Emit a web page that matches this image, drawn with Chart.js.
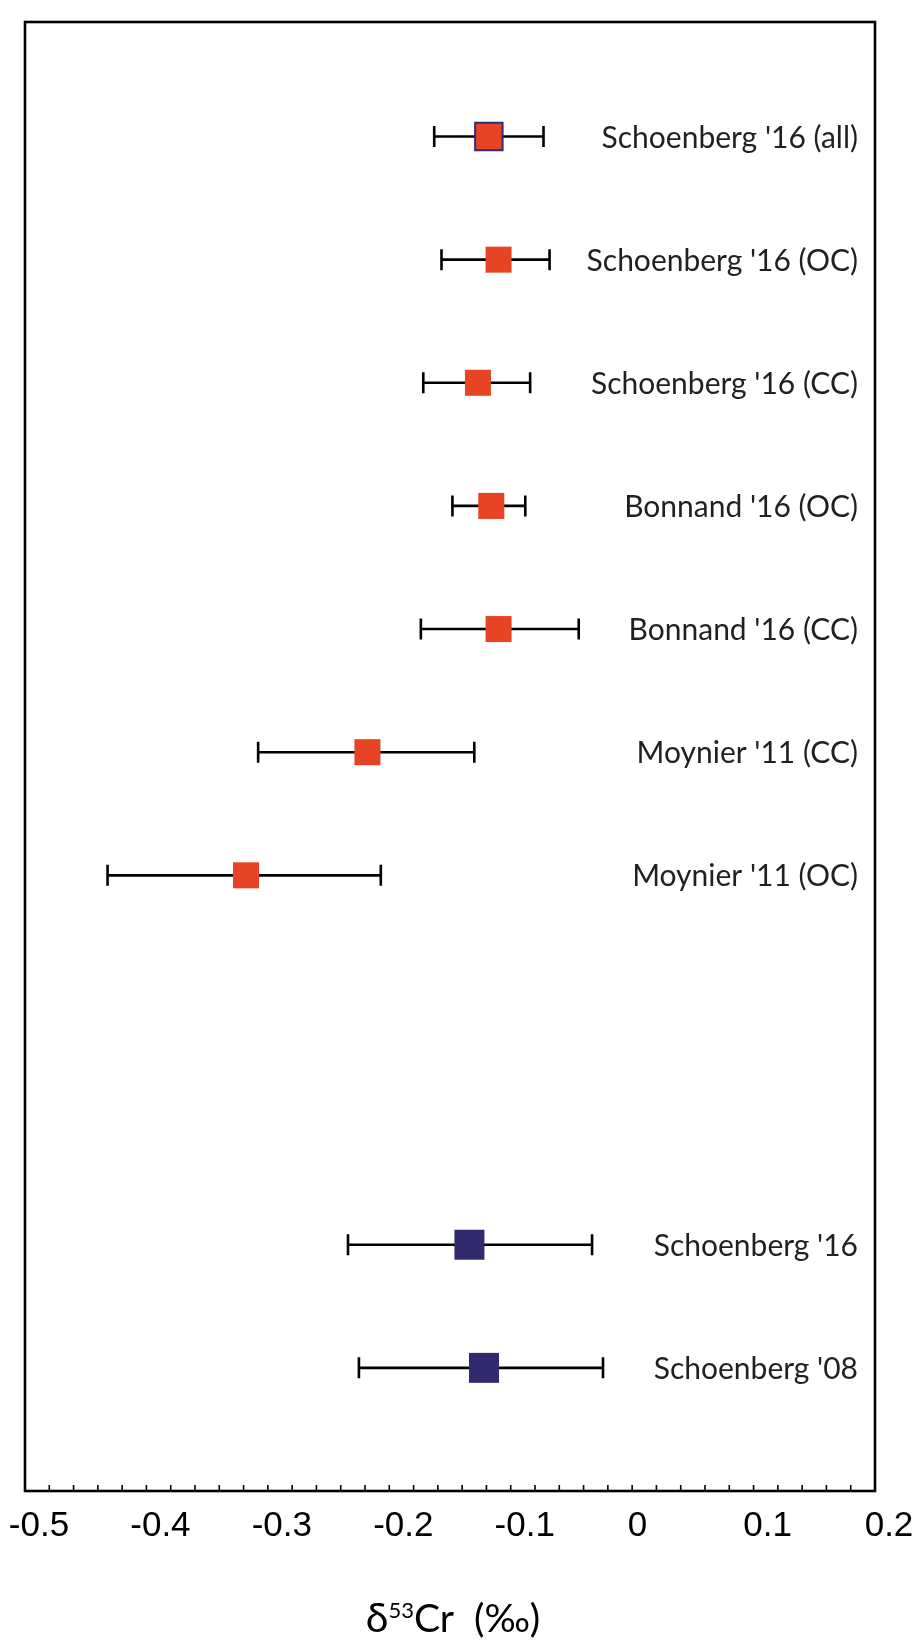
<!DOCTYPE html>
<html>
<head>
<meta charset="utf-8">
<script src="https://cdn.jsdelivr.net/npm/chart.js@4.4.1/dist/chart.umd.min.js"></script>
<style>
  html, body { margin: 0; padding: 0; background: #ffffff; }
  canvas { display: block; }
</style>
</head>
<body>
<canvas id="c" width="917" height="1643"></canvas>
<script>
// Study labels, drawn at the right-hand end of each row
const studies = [
  "Schoenberg '16 (all)",
  "Schoenberg '16 (OC)",
  "Schoenberg '16 (CC)",
  "Bonnand '16 (OC)",
  "Bonnand '16 (CC)",
  "Moynier '11 (CC)",
  "Moynier '11 (OC)",
  "Schoenberg '16",
  "Schoenberg '08"
];
// Row index of each study (top row = 1)
const rowPositions = [1, 2, 3, 4, 5, 6, 7, 10, 11];
// Mean δ53Cr (‰) and the ends of its uncertainty bar
const meanValues  = [-0.118, -0.110, -0.127, -0.116, -0.110, -0.218, -0.318, -0.134, -0.122];
const lowerValues = [-0.163, -0.157, -0.172, -0.148, -0.174, -0.308, -0.432, -0.234, -0.225];
const upperValues = [-0.073, -0.068, -0.084, -0.088, -0.044, -0.130, -0.207, -0.033, -0.024];
// Sample group: meteorites (red) or bulk silicate Earth (blue)
const groups = ["meteorite", "meteorite", "meteorite", "meteorite", "meteorite", "meteorite", "meteorite", "earth", "earth"];
// Labelled x ticks and the minor tick step
const xTickValues = [-0.5, -0.4, -0.3, -0.2, -0.1, 0, 0.1, 0.2];
const minorStep = 0.02;

const RED = '#e64425';
const BLUE = '#322a6f';
const INK = '#231f20';

const fill = groups.map(g => g === 'earth' ? BLUE : RED);
const border = groups.map((g, i) => i === 0 ? BLUE : fill[i]);
const borderW = groups.map((g, i) => i === 0 ? 2 : 0);
const radius = groups.map((g, i) => i === 0 ? 19.4 : (g === 'earth' ? 21.2 : 18.4));

const framePlugin = {
  id: 'frameAndExtras',
  beforeDatasetsDraw(chart) {
    const { ctx, scales: { x, y } } = chart;
    ctx.save();
    ctx.strokeStyle = '#000';
    ctx.lineWidth = 2.6;
    for (let i = 0; i < meanValues.length; i++) {
      const x1 = x.getPixelForValue(lowerValues[i]);
      const x2 = x.getPixelForValue(upperValues[i]);
      const yy = y.getPixelForValue(rowPositions[i]);
      ctx.beginPath();
      ctx.moveTo(x1, yy); ctx.lineTo(x2, yy);
      ctx.moveTo(x1, yy - 10.5); ctx.lineTo(x1, yy + 10.5);
      ctx.moveTo(x2, yy - 10.5); ctx.lineTo(x2, yy + 10.5);
      ctx.stroke();
    }
    ctx.restore();
  },
  afterDraw(chart) {
    const { ctx, chartArea: a, scales: { x, y } } = chart;
    ctx.save();
    // frame
    ctx.strokeStyle = '#000';
    ctx.lineWidth = 2.6;
    ctx.strokeRect(a.left, a.top, a.right - a.left, a.bottom - a.top);
    // inward minor ticks along the bottom axis
    ctx.lineWidth = 1.6;
    ctx.beginPath();
    const n = Math.round((x.max - x.min) / minorStep);
    for (let k = 1; k < n; k++) {
      const px = x.getPixelForValue(x.min + k * minorStep);
      ctx.moveTo(px, a.bottom);
      ctx.lineTo(px, a.bottom - 6);
    }
    ctx.stroke();
    // study labels
    ctx.fillStyle = INK;
    ctx.font = '30px Lato';
    ctx.textAlign = 'right';
    ctx.textBaseline = 'alphabetic';
    for (let i = 0; i < studies.length; i++) {
      ctx.fillText(studies[i], a.right - 17, y.getPixelForValue(rowPositions[i]) + 11);
    }
    // axis title: δ53Cr (‰) with superscript mass number
    const big = '39px Lato', small = '22px Lato';
    const parts = [['δ', '41px Lato', 0], ['53', small, -14], ['Cr  (‰)', big, 0]];
    let total = 0;
    parts.forEach(p => { ctx.font = p[1]; total += ctx.measureText(p[0]).width; });
    let cx = (a.left + a.right) / 2 + 3 - total / 2;
    const base = 1632;
    ctx.textAlign = 'left';
    ctx.fillStyle = '#000';
    parts.forEach(p => {
      ctx.font = p[1];
      ctx.fillText(p[0], cx, base + p[2]);
      cx += ctx.measureText(p[0]).width;
    });
    ctx.restore();
  }
};

new Chart(document.getElementById('c'), {
  type: 'scatter',
  data: {
    datasets: [{
      data: meanValues.map((v, i) => ({ x: v, y: rowPositions[i] })),
      pointStyle: 'rect',
      pointRadius: radius,
      pointHoverRadius: radius,
      pointBackgroundColor: fill,
      pointBorderColor: border,
      pointBorderWidth: borderW
    }]
  },
  options: {
    responsive: false,
    devicePixelRatio: 1,
    animation: false,
    events: [],
    layout: { padding: { left: 25, right: 42, top: 22, bottom: 0 } },
    plugins: { legend: { display: false }, tooltip: { enabled: false } },
    scales: {
      x: {
        type: 'linear',
        min: -0.5,
        max: 0.2,
        afterBuildTicks: s => { s.ticks = xTickValues.map(v => ({ value: v })); },
        afterFit: s => { s.height = 152; s.paddingLeft = 0; s.paddingRight = 0; },
        grid: { display: false },
        border: { display: false },
        ticks: {
          autoSkip: false,
          maxRotation: 0,
          minRotation: 0,
          padding: 6,
          labelOffset: 14,
          color: '#000',
          font: { family: "'Liberation Sans Narrow', 'Liberation Sans'", size: 35 },
          // the zero label sits a little left of the others
          callback: v => (v === 0 ? '0\u2002' : v.toFixed(1))
        }
      },
      y: {
        type: 'linear',
        min: 0.07,
        max: 12,
        reverse: true,
        display: false
      }
    }
  },
  plugins: [framePlugin]
});
</script>
</body>
</html>
